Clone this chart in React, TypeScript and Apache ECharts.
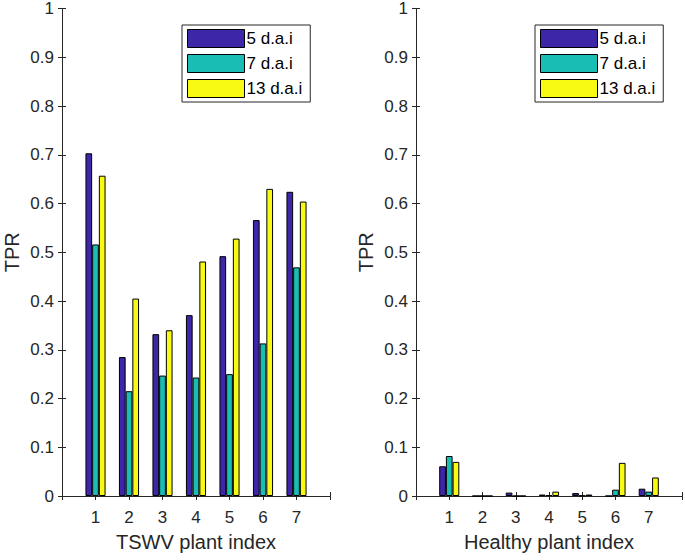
import React, { useEffect, useRef } from "react";
import * as echarts from "echarts";

const plantIndex = [1, 2, 3, 4, 5, 6, 7];
const seriesNames = ["5 d.a.i", "7 d.a.i", "13 d.a.i"];
const tswv5 = [0.703, 0.285, 0.332, 0.371, 0.492, 0.566, 0.624];
const tswv7 = [0.516, 0.215, 0.247, 0.243, 0.25, 0.313, 0.469];
const tswv13 = [0.657, 0.405, 0.34, 0.481, 0.528, 0.63, 0.604];
const healthy5 = [0.061, 0, 0.007, 0.003, 0.006, 0, 0.015];
const healthy7 = [0.082, 0, 0, 0.002, 0.001, 0.013, 0.009];
const healthy13 = [0.07, 0, 0, 0.009, 0.003, 0.068, 0.038];
const xTickLabels = ["1", "2", "3", "4", "5", "6", "7"];
const colors = ["#3E26A8", "#19BDB3", "#F9FA14"];

const FONT = "'Liberation Sans', Arial, Helvetica, sans-serif";
const TXT = "#262626";

export default function App() {
  const ref = useRef<HTMLDivElement>(null);
  useEffect(() => {
    if (!ref.current) return;
    const chart = echarts.init(ref.current, undefined, { renderer: "svg" });
    const grids = [
      { left: 62, right: 355, top: 6, bottom: 64 },
      { left: 416, right: 1, top: 6, bottom: 64 },
    ];
    const xNames = ["TSWV plant index", "Healthy plant index"];
    const xAxes: any[] = [];
    const yAxes: any[] = [];
    grids.forEach((g, gi) => {
      xAxes.push({
        type: "value",
        gridIndex: gi,
        min: 0,
        max: 8,
        interval: 1,
        position: "bottom",
        name: xNames[gi],
        nameLocation: "middle",
        nameGap: 36,
        nameTextStyle: { fontFamily: FONT, fontSize: 20, color: TXT },
        axisLine: { show: true, lineStyle: { color: TXT, width: 1 } },
        axisTick: { show: true, inside: true, length: 4, lineStyle: { color: TXT } },
        axisLabel: {
          fontFamily: FONT,
          fontSize: 17,
          color: TXT,
          margin: 13,
          formatter: (v: number) => (v >= 1 && v <= 7 ? xTickLabels[v - 1] : ""),
        },
        splitLine: { show: false },
      });
      xAxes.push({
        type: "value",
        gridIndex: gi,
        min: 0,
        max: 8,
        interval: 1,
        position: "top",
        axisLine: { show: true, lineStyle: { color: TXT, width: 1 } },
        axisTick: { show: true, inside: true, length: 4, lineStyle: { color: TXT } },
        axisLabel: { show: false },
        splitLine: { show: false },
      });
      yAxes.push({
        type: "value",
        gridIndex: gi,
        min: 0,
        max: 1,
        interval: 0.1,
        position: "left",
        name: "TPR",
        nameLocation: "middle",
        nameGap: 40,
        nameTextStyle: { fontFamily: FONT, fontSize: 20, color: TXT },
        axisLine: { show: true, lineStyle: { color: TXT, width: 1 } },
        axisTick: { show: true, inside: true, length: 4, lineStyle: { color: TXT } },
        axisLabel: {
          fontFamily: FONT,
          fontSize: 17,
          color: TXT,
          margin: 8,
          formatter: (v: number) => {
            if (Math.abs(v) < 1e-9) return "0";
            if (Math.abs(v - 1) < 1e-9) return "1";
            return v.toFixed(1);
          },
        },
        splitLine: { show: false },
      });
      yAxes.push({
        type: "value",
        gridIndex: gi,
        min: 0,
        max: 1,
        interval: 0.1,
        position: "right",
        axisLine: { show: true, lineStyle: { color: TXT, width: 1 } },
        axisTick: { show: true, inside: true, length: 4, lineStyle: { color: TXT } },
        axisLabel: { show: false },
        splitLine: { show: false },
      });
    });

    const dataSets = [
      [tswv5, tswv7, tswv13],
      [healthy5, healthy7, healthy13],
    ];
    const series: any[] = [];
    dataSets.forEach((sets, gi) => {
      sets.forEach((vals, si) => {
        series.push({
          type: "bar",
          name: seriesNames[si],
          xAxisIndex: gi * 2,
          yAxisIndex: gi * 2,
          barWidth: 6.7,
          barGap: "0%",
          itemStyle: { color: colors[si], borderColor: "#000", borderWidth: 1 },
          data: plantIndex.map((p, i) => [p, vals[i]]),
        });
      });
    });

    const legendBase = {
      orient: "vertical",
      top: 25,
      icon: "rect",
      itemWidth: 57,
      itemHeight: 18,
      itemGap: 6,
      padding: [4, 8, 4, 5],
      borderColor: TXT,
      borderWidth: 1,
      backgroundColor: "#fff",
      selectedMode: false,
      itemStyle: { borderColor: "#000", borderWidth: 1 },
      textStyle: { fontFamily: FONT, fontSize: 17, color: "#000", padding: [0, 0, 0, -3] },
      data: seriesNames,
    };

    chart.setOption({
      animation: false,
      backgroundColor: "#fff",
      grid: grids,
      xAxis: xAxes,
      yAxis: yAxes,
      legend: [
        { ...legendBase, left: 182 },
        { ...legendBase, left: 535 },
      ],
      series,
    });
    return () => chart.dispose();
  }, []);
  return (
    <div
      ref={ref}
      style={{ position: "absolute", left: 0, top: 0, width: 685, height: 560 }}
    />
  );
}
